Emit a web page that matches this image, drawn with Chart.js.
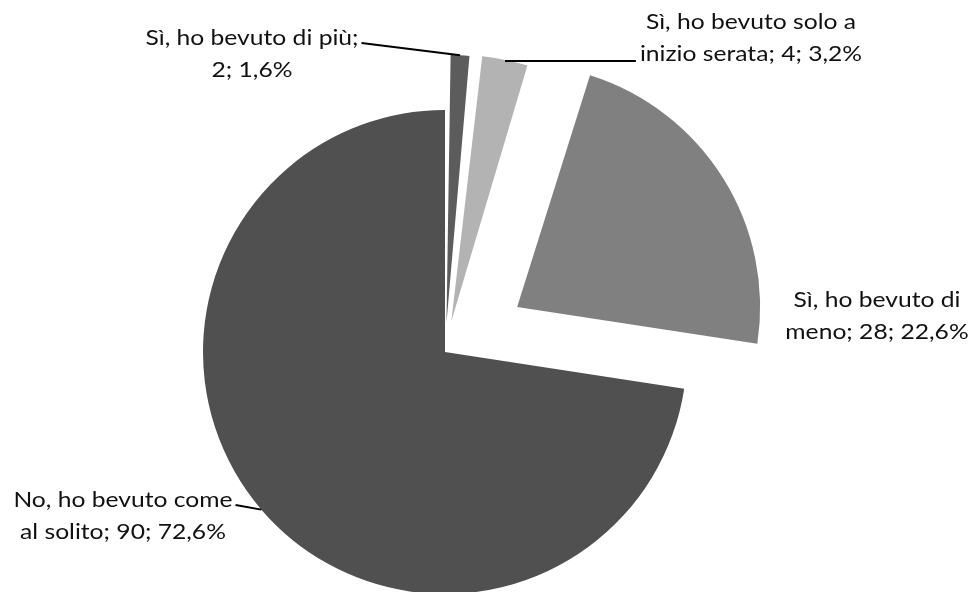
<!DOCTYPE html>
<html>
<head>
<meta charset="utf-8">
<script src="https://cdn.jsdelivr.net/npm/chart.js@4.4.1/dist/chart.umd.min.js"></script>
<style>
  html, body { margin: 0; padding: 0; background: #fff; }
  #wrap { width: 979px; height: 592px; }
</style>
</head>
<body>
<div id="wrap"><canvas id="pie" width="979" height="592"></canvas></div>
<script>
// ===== dati =====
const categories = ['Sì, ho bevuto di più', 'Sì, ho bevuto solo a inizio serata', 'Sì, ho bevuto di meno', 'No, ho bevuto come al solito'];
const counts = [2, 4, 28, 90];

// ===== stile =====
const sliceColors = ['#5c5c5c', '#b3b3b3', '#808080', '#505050'];
const sliceOffsets = [116, 125, 340, 0];
const wrapAfter = [5, 5, 4, 4];                 // parole sulla prima riga
const labelAnchor = [[252, 38], [751, 22], [877, 300], [123, 500]];
const leaderSide = ['right', 'left2', null, 'right'];
const LINE_H = 32;
const FONT = '22px Lato';
const TEXT_SX = 1.12;                           // testo un po' più largo, come Calibri nell'originale

const total = counts.reduce((a, b) => a + b, 0);
const pctText = v => (v / total * 100).toFixed(1).replace('.', ',') + '%';

function labelLines(i) {
    const words = (categories[i] + '; ' + counts[i] + '; ' + pctText(counts[i])).split(' ');
    return [words.slice(0, wrapAfter[i]).join(' '), words.slice(wrapAfter[i]).join(' ')];
}

// punto esterno della fetta (con l'offset applicato come fa ArcElement)
function arcOuterPoint(arc) {
    const off = (arc.options.offset || 0) / 4;
    const fix = 1 - Math.sin(Math.min(Math.PI, arc.circumference || 0));
    const t = off * (1 + fix);
    const mid = (arc.startAngle + arc.endAngle) / 2;
    return {
        x: arc.x + Math.cos(mid) * (t + arc.outerRadius),
        y: arc.y + Math.sin(mid) * (t + arc.outerRadius)
    };
}

function drawText(ctx, text, x, y) {
    ctx.save();
    ctx.translate(x, y);
    ctx.scale(TEXT_SX, 1);
    ctx.fillText(text, 0, 0);
    ctx.restore();
}

const labelPlugin = {
    id: 'excelLabels',
    afterDatasetsDraw(chart) {
        const ctx = chart.ctx;
        const arcs = chart.getDatasetMeta(0).data;
        ctx.save();
        ctx.font = FONT;
        ctx.fillStyle = '#111';
        ctx.textAlign = 'center';
        ctx.textBaseline = 'middle';
        arcs.forEach((arc, i) => {
            const [cx, cy] = labelAnchor[i];
            const lines = labelLines(i);
            lines.forEach((ln, k) => drawText(ctx, ln, cx, cy + k * LINE_H));

            const side = leaderSide[i];
            if (!side) return;
            let sx, sy;
            if (side === 'right') {
                sx = cx + ctx.measureText(lines[0]).width * TEXT_SX / 2 + 3;
                sy = cy + 5;
            } else {
                sx = cx - ctx.measureText(lines[1]).width * TEXT_SX / 2 - 4;
                sy = cy + LINE_H + 7;
            }
            const p = arcOuterPoint(arc);
            ctx.beginPath();
            ctx.strokeStyle = '#000';
            ctx.lineWidth = 2;
            ctx.moveTo(sx, sy);
            if (side === 'left2') ctx.lineTo(p.x, sy);
            else ctx.lineTo(p.x, p.y);
            ctx.stroke();
        });
        ctx.restore();
    }
};

new Chart(document.getElementById('pie'), {
    type: 'pie',
    data: {
        labels: categories,
        datasets: [{
            data: counts,
            backgroundColor: sliceColors,
            offset: sliceOffsets,
            borderWidth: 0,
            radius: 242,
            clip: false
        }]
    },
    options: {
        responsive: false,
        animation: false,
        events: [],
        layout: { padding: { left: 0, right: 89, top: 112, bottom: 0 } },
        plugins: {
            legend: { display: false },
            tooltip: { enabled: false }
        }
    },
    plugins: [labelPlugin]
});
</script>
</body>
</html>
